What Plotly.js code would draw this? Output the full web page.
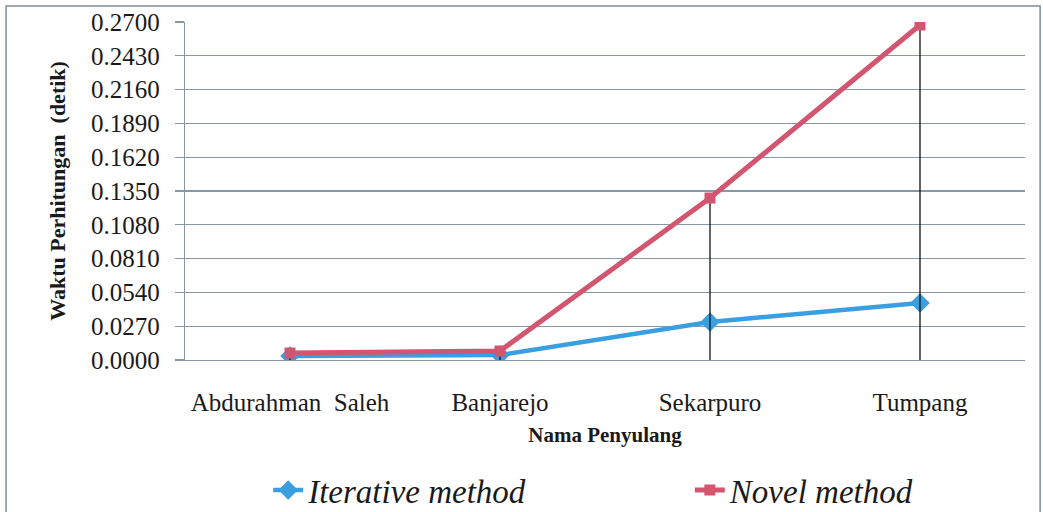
<!DOCTYPE html>
<html>
<head>
<meta charset="utf-8">
<script src="https://cdn.plot.ly/plotly-3.0.1.min.js"></script>
<style>
  html, body { margin: 0; padding: 0; background: #ffffff; }
  #chart { width: 1043px; height: 512px; }
</style>
</head>
<body>
<div id="chart"></div>
<script>
// Feeder names (x categories)
const feeders = ['Abdurahman  Saleh', 'Banjarejo', 'Sekarpuro', 'Tumpang'];

// Computation time in seconds for each method
const iterativeTime = [0.0032, 0.0040, 0.0304, 0.0455];
const novelTime = [0.0056, 0.0072, 0.1294, 0.2676];

// Y tick values
const yTicks = [0, 0.027, 0.054, 0.081, 0.108, 0.135, 0.162, 0.189, 0.216, 0.243, 0.27];

const gridColor = '#8797a6';
const serif = 'Liberation Serif, Times New Roman, serif';
const textColor = '#1a1a1a';

const traces = [
  {
    x: feeders,
    y: iterativeTime,
    name: 'Iterative method',
    legend: 'legend',
    type: 'scatter',
    mode: 'lines+markers',
    line: { color: '#3a9fe0', width: 4.5 },
    marker: { symbol: 'diamond', size: 15, color: '#3a9fe0' }
  },
  {
    x: feeders,
    y: novelTime,
    name: 'Novel method',
    legend: 'legend2',
    type: 'scatter',
    mode: 'lines+markers',
    line: { color: '#d2566f', width: 5 },
    marker: { symbol: 'square', size: 11, color: '#d2566f' },
    // drop lines from each point down to the category axis
    error_y: {
      type: 'data',
      symmetric: false,
      array: novelTime.map(() => 0),
      arrayminus: novelTime,
      color: '#111111',
      thickness: 1.3,
      width: 0
    }
  }
];

const legendFont = { family: serif, size: 33, style: 'italic', color: textColor };

const layout = {
  width: 1043,
  height: 512,
  margin: { l: 185, r: 18, t: 22, b: 152, autoexpand: false },
  paper_bgcolor: '#ffffff',
  plot_bgcolor: '#ffffff',
  showlegend: true,
  font: { family: serif, color: textColor },
  xaxis: {
    type: 'category',
    range: [-0.5, 3.5],
    showgrid: false,
    zeroline: false,
    showline: true,
    linecolor: gridColor,
    linewidth: 1.2,
    ticks: '',
    ticklabelstandoff: 20,
    tickfont: { family: serif, size: 25, color: textColor },
    title: {
      text: 'Nama Penyulang',
      font: { family: serif, size: 21, weight: 'bold', color: textColor },
      standoff: 12
    }
  },
  yaxis: {
    range: [0, 0.27],
    tickvals: yTicks,
    tickformat: '.4f',
    showgrid: true,
    gridcolor: gridColor,
    gridwidth: 1.2,
    zeroline: false,
    showline: true,
    linecolor: gridColor,
    linewidth: 1.2,
    ticks: 'outside',
    ticklen: 9,
    tickcolor: gridColor,
    tickwidth: 1.2,
    ticklabelstandoff: 10,
    tickfont: { family: serif, size: 25, color: textColor },
    title: {
      text: 'Waktu Perhitungan  (detik)',
      font: { family: serif, size: 22, weight: 'bold', color: textColor },
      standoff: 19
    }
  },
  legend: {
    orientation: 'h',
    x: 0.099,
    xanchor: 'left',
    y: -0.385,
    yanchor: 'middle',
    font: legendFont,
    bgcolor: 'rgba(0,0,0,0)'
  },
  legend2: {
    orientation: 'h',
    x: 0.601,
    xanchor: 'left',
    y: -0.385,
    yanchor: 'middle',
    font: legendFont,
    bgcolor: 'rgba(0,0,0,0)'
  },
  shapes: [
    {
      // outer chart frame
      type: 'rect',
      xref: 'paper', yref: 'paper',
      x0: -0.213, x1: 1.018, y0: -0.47, y1: 1.047,
      line: { color: '#7d8d9c', width: 1.5 },
      fillcolor: 'rgba(0,0,0,0)',
      layer: 'below'
    }
  ]
};

Plotly.newPlot('chart', traces, layout, { displayModeBar: false, staticPlot: true });
</script>
</body>
</html>
